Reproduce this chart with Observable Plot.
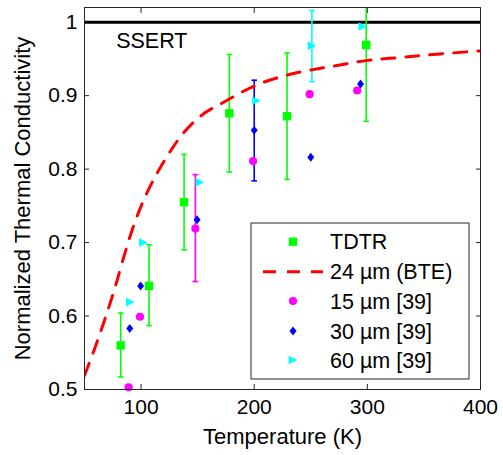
<!DOCTYPE html>
<html><head><meta charset="utf-8">
<script src="https://cdn.jsdelivr.net/npm/d3@7"></script>
<script src="https://cdn.jsdelivr.net/npm/@observablehq/plot@0.6"></script>
<style>
body{margin:0;background:#fff;}
#chart{width:503px;height:455px;}
</style>
</head><body><div id="chart"></div>
<script>
// TDTR measurements (green squares with error bars)
const tdtrT  = [82, 107, 138, 178, 229, 299];
const tdtrK  = [0.560, 0.641, 0.755, 0.876, 0.872, 0.969];
const tdtrLo = [0.517, 0.587, 0.690, 0.796, 0.786, 0.865];
const tdtrHi = [0.604, 0.697, 0.820, 0.956, 0.958, 1.070];

// BTE model, 24 µm (red dashed)
const bteT = [50, 60, 68.5, 77, 86, 95, 105, 115.5, 127, 139, 155, 173, 190.5, 208, 229, 250, 273, 300, 329, 358, 400];
const bteK = [0.519, 0.560, 0.598, 0.639, 0.687, 0.730, 0.767, 0.798, 0.827, 0.852, 0.875, 0.891, 0.906, 0.918, 0.928, 0.935, 0.941, 0.948, 0.952, 0.956, 0.961];

// Ref [39] datasets
const w15T = [89, 99, 148, 199, 249, 291];
const w15K = [0.503, 0.599, 0.719, 0.811, 0.902, 0.907];
const w15Err = {T: 148, lo: 0.647, hi: 0.7925};

const w30T = [90, 99.6, 149.5, 200, 250, 294];
const w30K = [0.583, 0.641, 0.731, 0.853, 0.816, 0.916];
const w30Err = {T: 200, lo: 0.784, hi: 0.921};

const w60T = [90.5, 102, 152, 202, 251, 296];
const w60K = [0.619, 0.700, 0.782, 0.893, 0.968, 0.994];
const w60Err = {T: 251, lo: 0.919, hi: 1.016};

const refLine = [1];
const annotation = {T: 78, K: 0.965, text: "SSERT"};

const xTicks = [100, 200, 300, 400];
const yTicks = [0.5, 0.6, 0.7, 0.8, 0.9, 1];
const xLabel = "Temperature (K)";
const yLabel = "Normalized Thermal Conductivity";
const legendLabels = ["TDTR", "24 µm (BTE)", "15 µm [39]", "30 µm [39]", "60 µm [39]"];

const GREEN = "#00ff00", RED = "#ff0000", MAGENTA = "#ff00ff", BLUE = "#0000ff", CYAN = "#00ffff";

// custom symbols
const capSym = {draw(ctx, size){ const w = 2.8; ctx.moveTo(-w, 0); ctx.lineTo(w, 0); }};
const squareSym = {draw(ctx, size){ const r = Math.sqrt(size/Math.PI); ctx.moveTo(-r,-r); ctx.lineTo(r,-r); ctx.lineTo(r,r); ctx.lineTo(-r,r); ctx.closePath(); }};
const diamondSym = {draw(ctx, size){ const r = Math.sqrt(size/Math.PI); ctx.moveTo(0,-r*1.1); ctx.lineTo(r*0.85,0); ctx.lineTo(0,r*1.1); ctx.lineTo(-r*0.85,0); ctx.closePath(); }};
const triSym = {draw(ctx, size){ const r = Math.sqrt(size/Math.PI); ctx.moveTo(r,0); ctx.lineTo(-r,-r); ctx.lineTo(-r,r); ctx.closePath(); }};

const tdtr = tdtrT.map((t,i)=>({T:t, K:tdtrK[i], lo:tdtrLo[i], hi:tdtrHi[i]}));
const bte = bteT.map((t,i)=>({T:t, K:bteK[i]}));
const w15 = w15T.map((t,i)=>({T:t, K:w15K[i]}));
const w30 = w30T.map((t,i)=>({T:t, K:w30K[i]}));
const w60 = w60T.map((t,i)=>({T:t, K:w60K[i]}));
const errs = [
  {...w15Err, c: MAGENTA},
  {...w30Err, c: BLUE},
  {...w60Err, c: CYAN}
];

const FONT = "'Liberation Sans', Arial, Helvetica, sans-serif";

const plot = Plot.plot({
  width: 503, height: 455,
  marginLeft: 84, marginRight: 23, marginTop: 7, marginBottom: 66,
  style: {fontFamily: FONT, fontSize: "21px", background: "white", color: "black", overflow: "visible"},
  x: {domain: [50, 400]},
  y: {domain: [0.5, 1.02]},
  marks: [
    // inward ticks on all four sides
    Plot.axisX({anchor: "bottom", ticks: xTicks, tickSize: -5, tickFormat: () => "", label: null, stroke: "#262626"}),
    Plot.axisX({anchor: "top", ticks: xTicks, tickSize: -5, tickFormat: () => "", label: null, stroke: "#262626"}),
    Plot.axisY({anchor: "left", ticks: yTicks, tickSize: -5, tickFormat: () => "", label: null, stroke: "#262626"}),
    Plot.axisY({anchor: "right", ticks: yTicks, tickSize: -5, tickFormat: () => "", label: null, stroke: "#262626"}),
    // tick labels
    Plot.axisX({anchor: "bottom", ticks: xTicks, tickSize: 0, tickPadding: 10, label: null, fontSize: 21}),
    Plot.axisY({anchor: "left", ticks: yTicks, tickSize: 0, tickPadding: 7, label: null, fontSize: 21,
      tickFormat: d => d === 1 ? "1" : d.toFixed(1)}),
    // axis titles
    Plot.text([xLabel], {frameAnchor: "bottom", dy: 54, lineAnchor: "bottom", fontSize: 22, fill: "black"}),
    Plot.text([yLabel], {frameAnchor: "left", dx: -70, rotate: -90, textAnchor: "middle", lineAnchor: "top", fontSize: 22, fill: "black"}),
    // reference line
    Plot.ruleY(refLine, {stroke: "black", strokeWidth: 3}),
    Plot.text([annotation], {x: "T", y: "K", text: "text", textAnchor: "start", lineAnchor: "bottom", fontSize: 21.5, fill: "black"}),
    // error bars
    Plot.ruleX(tdtr, {x: "T", y1: "lo", y2: "hi", stroke: GREEN, strokeWidth: 1.6, clip: true}),
    Plot.dot(tdtr, {x: "T", y: "lo", symbol: capSym, r: 3, stroke: GREEN, strokeWidth: 1.6, fill: "none", clip: true}),
    Plot.dot(tdtr, {x: "T", y: "hi", symbol: capSym, r: 3, stroke: GREEN, strokeWidth: 1.6, fill: "none", clip: true}),
    Plot.ruleX(errs, {x: "T", y1: "lo", y2: "hi", stroke: "c", strokeWidth: 1.6, clip: true}),
    Plot.dot(errs, {x: "T", y: "lo", symbol: capSym, r: 3, stroke: "c", strokeWidth: 1.6, fill: "none"}),
    Plot.dot(errs, {x: "T", y: "hi", symbol: capSym, r: 3, stroke: "c", strokeWidth: 1.6, fill: "none"}),
    // BTE curve
    Plot.line(bte, {x: "T", y: "K", stroke: RED, strokeWidth: 3, strokeDasharray: "13,11", curve: "catmull-rom", clip: true}),
    // markers
    Plot.dot(tdtr, {x: "T", y: "K", symbol: squareSym, r: 4.2, fill: GREEN, stroke: "none"}),
    Plot.dot(w15, {x: "T", y: "K", symbol: "circle", r: 4.1, fill: MAGENTA, stroke: "none"}),
    Plot.dot(w30, {x: "T", y: "K", symbol: diamondSym, r: 4.1, fill: BLUE, stroke: "none"}),
    Plot.dot(w60, {x: "T", y: "K", symbol: triSym, r: 4.3, fill: CYAN, stroke: "none"}),
    Plot.frame({stroke: "#262626", strokeWidth: 1})
  ]
});

document.getElementById("chart").appendChild(plot);

// Legend (drawn inside the plot area, like the original)
const svg = d3.select(plot);
const lg = svg.append("g").attr("font-family", FONT).attr("font-size", 21.5).attr("text-anchor", "start");
const box = {x: 251, y: 223, w: 218, h: 156};
lg.append("rect").attr("x", box.x).attr("y", box.y).attr("width", box.w).attr("height", box.h)
  .attr("fill", "white").attr("stroke", "#262626").attr("stroke-width", 1);
const rowY = [241.7, 271.7, 301, 331, 360];
const mx = 293, tx = 330;
const symPath = (sym, r) => { const p = d3.path(); sym.draw(p, Math.PI*r*r); return p.toString(); };
lg.append("path").attr("transform", `translate(${mx},${rowY[0]})`).attr("d", symPath(squareSym, 4.2)).attr("fill", GREEN);
lg.append("line").attr("x1", 263).attr("x2", 323).attr("y1", rowY[1]).attr("y2", rowY[1])
  .attr("stroke", RED).attr("stroke-width", 3).attr("stroke-dasharray", "13,11");
lg.append("circle").attr("cx", mx).attr("cy", rowY[2]).attr("r", 4.1).attr("fill", MAGENTA);
lg.append("path").attr("transform", `translate(${mx},${rowY[3]})`).attr("d", symPath(diamondSym, 4.1)).attr("fill", BLUE);
lg.append("path").attr("transform", `translate(${mx},${rowY[4]})`).attr("d", symPath(triSym, 4.3)).attr("fill", CYAN);
legendLabels.forEach((t, i) => {
  lg.append("text").attr("x", tx).attr("y", rowY[i]).attr("dy", "0.36em").attr("fill", "black").attr("text-anchor", "start").text(t);
});
</script>
</body></html>
